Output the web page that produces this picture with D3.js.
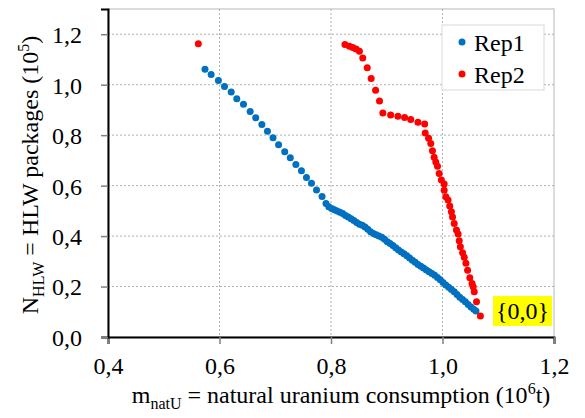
<!DOCTYPE html>
<html>
<head>
<meta charset="utf-8">
<script src="https://cdn.jsdelivr.net/npm/d3@7"></script>
<style>
  body { margin: 0; background: #fff; }
</style>
</head>
<body>
<svg id="chart" width="585" height="418" font-family="Liberation Serif"></svg>
<script>
// values
const xTicks = [0.4, 0.6, 0.8, 1.0, 1.2];
const yTicks = [0.0, 0.2, 0.4, 0.6, 0.8, 1.0, 1.2];
const seriesNames = ["Rep1", "Rep2"];

const rep1X = [0.574,0.585,0.598,0.609,0.621,0.631,0.643,0.655,0.665,0.676,0.686,0.696,0.706,0.717,0.727,0.737,0.747,0.756,0.765,0.774,0.784,
  0.791,0.796,0.801,0.806,0.811,0.816,0.821,0.826,0.831,0.836,0.841,0.846,0.851,0.856,0.861,0.866,0.871,0.876,0.881,0.886,0.891,0.896,0.901,0.906,
  0.911,0.916,0.921,0.926,0.931,0.936,0.941,0.946,0.951,0.956,0.961,0.966,0.971,0.976,0.981,0.986,0.991,0.996,1.001,1.006,1.011,1.016,1.021,1.026,
  1.031,1.036,1.041,1.046,1.051,1.056,1.060];
const rep1Y = [1.061,1.040,1.017,0.993,0.971,0.944,0.922,0.894,0.869,0.842,0.815,0.790,0.762,0.734,0.710,0.684,0.659,0.632,0.609,0.583,0.557,
  0.529,0.516,0.509,0.504,0.499,0.494,0.489,0.482,0.476,0.469,0.462,0.454,0.447,0.443,0.436,0.427,0.417,0.410,0.405,0.400,0.395,0.387,0.378,0.371,
  0.363,0.354,0.345,0.337,0.330,0.322,0.313,0.304,0.296,0.287,0.280,0.273,0.266,0.259,0.252,0.245,0.236,0.227,0.216,0.206,0.197,0.188,0.179,0.168,
  0.158,0.149,0.140,0.129,0.119,0.110,0.103];

const rep2X = [0.562,0.825,0.833,0.839,0.845,0.851,0.857,0.865,0.872,0.880,0.887,0.893,0.907,0.920,0.932,0.943,0.956,0.968,0.969,0.975,
  0.979,0.982,0.985,0.988,0.991,0.994,0.998,1.003,1.003,1.006,1.010,1.013,1.016,1.018,1.021,1.025,1.028,1.030,1.032,1.036,1.039,1.042,
  1.045,1.049,1.053,1.055,1.057,1.061,1.068];
const rep2Y = [1.162,1.159,1.152,1.147,1.141,1.133,1.106,1.067,1.025,0.978,0.935,0.888,0.880,0.875,0.870,0.862,0.851,0.844,0.809,0.788,
  0.767,0.738,0.712,0.694,0.677,0.648,0.622,0.606,0.582,0.556,0.543,0.519,0.496,0.476,0.450,0.424,0.408,0.381,0.358,0.334,0.316,0.292,
  0.265,0.235,0.212,0.199,0.179,0.140,0.083];

const colors = ["#0070C0", "#FF0000"];

const svg = d3.select("#chart");
const mLeft = 108, mRight = 554, mTop = 9, mBottom = 337;

const x = d3.scaleLinear().domain([0.4, 1.2]).range([mLeft, mRight]);
const y = d3.scaleLinear().domain([0, 1.3]).range([mBottom, mTop]);
const fmt = d => d3.format(".1f")(d).replace(".", ",");

// serif font on a text element
function font(sel, size) {
  return sel.attr("font-size", size).attr("font-family", "Liberation Serif")
    .style("font-family", "'Liberation Serif', 'Times New Roman', Tinos, serif");
}

// plot frame (light grey top/right)
svg.append("rect")
  .attr("x", mLeft).attr("y", mTop)
  .attr("width", mRight - mLeft).attr("height", mBottom - mTop)
  .attr("fill", "none").attr("stroke", "#d0d0d0").attr("stroke-width", 1.5);

// grid
svg.append("g").selectAll("line").data(yTicks.filter(d => d > 0)).enter().append("line")
  .attr("x1", mLeft).attr("x2", mRight)
  .attr("y1", d => y(d)).attr("y2", d => y(d))
  .attr("stroke", "#b0b0b0").attr("stroke-dasharray", "2,2");
svg.append("g").selectAll("line").data(xTicks.filter(d => d > 0.4 && d < 1.2)).enter().append("line")
  .attr("y1", mTop).attr("y2", mBottom)
  .attr("x1", d => x(d)).attr("x2", d => x(d))
  .attr("stroke", "#b0b0b0").attr("stroke-dasharray", "2,2");

// axes
const xAxis = svg.append("g").attr("transform", `translate(0,${mBottom})`)
  .call(d3.axisBottom(x).tickValues(xTicks).tickFormat(fmt).tickSize(7).tickPadding(13));
const yAxis = svg.append("g").attr("transform", `translate(${mLeft},0)`)
  .call(d3.axisLeft(y).tickValues(yTicks).tickFormat(fmt).tickSize(7).tickPadding(19));
[xAxis, yAxis].forEach(a => {
  a.attr("font-family", "Liberation Serif").attr("font-size", 24);
  a.select(".domain").attr("stroke", "#000").attr("stroke-width", 2);
  a.selectAll(".tick line").attr("stroke", "#808080").attr("stroke-width", 1.5);
  font(a.selectAll(".tick text").attr("fill", "#000"), 24);
});
yAxis.selectAll(".tick text").attr("dy", "0.35em");

// points
const series = [rep1X.map((v, i) => [v, rep1Y[i]]), rep2X.map((v, i) => [v, rep2Y[i]])];
series.forEach((pts, k) => {
  svg.append("g").selectAll("circle").data(pts).enter().append("circle")
    .attr("cx", d => x(d[0])).attr("cy", d => y(d[1]))
    .attr("r", 3.5).attr("fill", colors[k]);
});

// {0,0} label
svg.append("rect").attr("x", 493).attr("y", 296).attr("width", 59).attr("height", 30).attr("fill", "#FFFF00");
font(svg.append("text").attr("x", 522.5).attr("y", 319).attr("text-anchor", "middle"), 24).text("{0,0}");

// legend
const lg = svg.append("g");
lg.append("rect").attr("x", 442).attr("y", 25).attr("width", 102).attr("height", 65)
  .attr("fill", "#fff").attr("stroke", "#d9d9d9");
seriesNames.forEach((n, i) => {
  lg.append("circle").attr("cx", 462).attr("cy", 42 + i * 32).attr("r", 3.5).attr("fill", colors[i]);
  font(lg.append("text").attr("x", 474).attr("y", 51 + i * 32), 24).text(n);
});

// axis titles
const xt = font(svg.append("text").attr("x", 341).attr("y", 403).attr("text-anchor", "middle"), 24);
xt.append("tspan").text("m");
xt.append("tspan").attr("font-size", 16).attr("dy", 6).text("natU");
xt.append("tspan").attr("dy", -6).text(" = natural uranium consumption (10");
xt.append("tspan").attr("font-size", 16).attr("dy", -9).text("6");
xt.append("tspan").attr("dy", 9).text("t)");

const yt = font(svg.append("text").attr("transform", "translate(38,175) rotate(-90)")
  .attr("text-anchor", "middle"), 24);
yt.append("tspan").text("N");
yt.append("tspan").attr("font-size", 16).attr("dy", 6).text("HLW");
yt.append("tspan").attr("dy", -6).text(" = HLW packages (10");
yt.append("tspan").attr("font-size", 16).attr("dy", -9).text("5");
yt.append("tspan").attr("dy", 9).text(")");
</script>
</body>
</html>
